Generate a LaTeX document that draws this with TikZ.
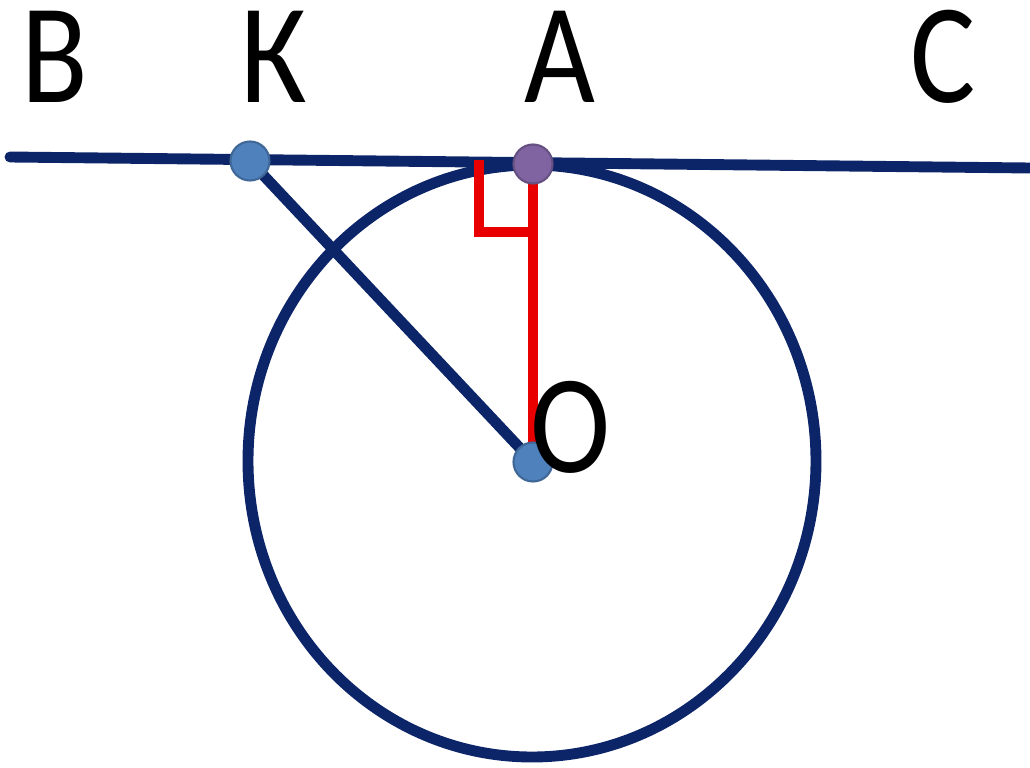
\documentclass[tikz,border=0pt]{standalone}
\usepackage{fontspec}
\newfontfamily\lbltop[FakeStretch=0.86]{Carlito}
\newfontfamily\lblo[FakeStretch=0.86]{Carlito}
\definecolor{navy}{RGB}{12,36,104}
\definecolor{ptblue}{RGB}{79,129,189}
\definecolor{ptviolet}{RGB}{128,100,162}
\definecolor{rred}{RGB}{232,0,0}
\tikzset{
	pt/.style={circle, inner sep=0pt, minimum size=3.9mm, fill=#1, draw=#1!80!black, line width=0.6pt},
	toplbl/.style={font=\lbltop\fontsize{40.5}{40.5}\selectfont, inner sep=0pt},
}
\begin{document}
\begin{tikzpicture}[line join=round, line cap=round]
			\useasboundingbox (0,0) rectangle (10.30,7.67);
			% points
			\coordinate (L) at (0.10,6.10);
			\coordinate (R) at (10.30,5.99);
			\coordinate (K) at (2.50,6.06);
			\coordinate (A) at (5.33,6.03);
			\coordinate (O) at (5.33,3.05);
			% tangent line and circle
			\draw[navy, line width=3.1pt] (L)--(R);
			\draw[navy, line width=3.1pt] (5.32,3.06) ellipse (2.84 and 2.96);
			\draw[navy, line width=3.1pt] (K)--(O);
			% radius and right angle
			\draw[rred, line width=2.9pt, line cap=butt] (A)--(O);
			\draw[rred, line width=2.9pt, line cap=butt, line join=miter] (4.79,6.07)--(4.79,5.35)--(5.33,5.35);
			\node[pt=ptblue] (k) at (K) {};
			\node[pt=ptviolet] (a) at (A) {};
			\node[pt=ptblue] (o) at (O) {};
			% labels
			\foreach \x/\t/\n in {0.55/В/lB, 2.74/К/lK, 5.60/А/lA, 9.43/С/lC}{\node[toplbl] (\n) at (\x,7.10) {\t};}
			\node[font=\lblo\fontsize{40}{40}\selectfont, inner sep=0pt] (lO) at (5.71,3.40) {О};
		\end{tikzpicture}
\end{document}
